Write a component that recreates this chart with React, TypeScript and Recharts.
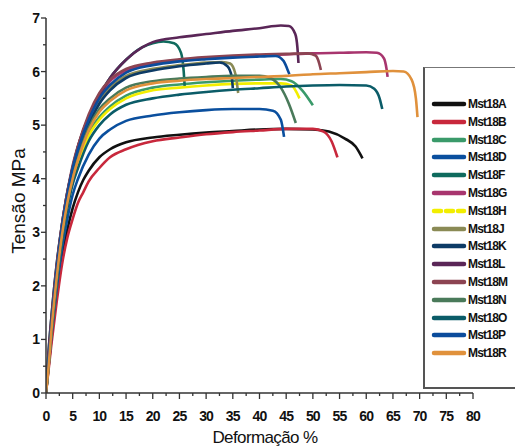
import React from 'react';
import { LineChart, Line, XAxis, YAxis, Label } from 'recharts';

// Strain (%) / stress (MPa) pairs for each specimen.
const mst18A = [[0,0],[1,1.0],[2,1.85],[3,2.55],[4,3.05],[5,3.45],[6,3.75],[7,3.98],[8,4.15],[10,4.4],[12,4.55],[15,4.68],[20,4.77],[25,4.82],[30,4.86],[35,4.89],[40,4.92],[45,4.93],[50,4.92],[53,4.88],[56,4.75],[58,4.6],[59.3,4.38]];
const mst18B = [[0,0],[1,0.9],[2,1.7],[3,2.4],[4,2.9],[5,3.25],[6,3.55],[7,3.75],[8,3.95],[10,4.2],[12,4.4],[15,4.55],[20,4.7],[25,4.77],[30,4.83],[35,4.87],[40,4.9],[45,4.93],[50,4.93],[52,4.88],[53.5,4.7],[54.6,4.4]];
const mst18C = [[0,0],[1,1.15],[2,2.15],[3,2.95],[4,3.55],[5,4.0],[6,4.35],[8,4.85],[10,5.15],[12,5.35],[15,5.55],[20,5.7],[25,5.76],[30,5.8],[35,5.83],[40,5.85],[44,5.86],[46,5.82],[48,5.65],[50,5.37]];
const mst18D = [[0,0],[1,1.05],[2,1.95],[3,2.7],[4,3.25],[5,3.7],[6,4.0],[8,4.45],[10,4.75],[12,4.92],[15,5.08],[20,5.18],[25,5.24],[30,5.28],[35,5.3],[40,5.3],[42.5,5.27],[44,5.1],[44.6,4.78]];
const mst18F = [[0,0],[0.5,0.8],[1,1.4],[2,2.4],[3,3.15],[4,3.75],[5,4.2],[6,4.6],[7,4.9],[8,5.15],[10,5.55],[12,5.88],[15,6.22],[18,6.45],[20,6.53],[22,6.56],[24,6.53],[25.3,6.35],[25.8,6.0],[26,5.7]];
const mst18G = [[0,0],[1,1.28],[2,2.32],[3,3.12],[4,3.72],[5,4.22],[6,4.6],[8,5.15],[10,5.55],[12,5.82],[15,6.02],[20,6.15],[25,6.21],[30,6.25],[35,6.28],[40,6.3],[45,6.32],[50,6.34],[55,6.35],[60,6.36],[62,6.35],[63.3,6.25],[63.8,6.05],[64,5.9]];
const mst18H = [[0,0],[1,1.12],[2,2.1],[3,2.9],[4,3.5],[5,3.95],[6,4.3],[8,4.8],[10,5.1],[12,5.3],[15,5.5],[20,5.65],[25,5.7],[30,5.74],[35,5.77],[40,5.78],[44,5.78],[46,5.74],[47.5,5.5]];
const mst18J = [[0,0],[1,1.25],[2,2.3],[3,3.1],[4,3.7],[5,4.15],[6,4.5],[8,5.05],[10,5.45],[12,5.7],[15,5.92],[20,6.05],[25,6.12],[30,6.17],[33,6.18],[34.5,6.15],[35.5,5.95],[36,5.6]];
const mst18K = [[0,0],[1,1.2],[2,2.25],[3,3.05],[4,3.65],[5,4.1],[6,4.45],[8,5.0],[10,5.4],[12,5.65],[15,5.88],[20,6.02],[25,6.1],[30,6.15],[32.5,6.17],[34,6.1],[34.8,5.9],[35,5.69]];
const mst18L = [[0,0],[0.5,0.8],[1,1.4],[2,2.4],[3,3.15],[4,3.75],[5,4.2],[6,4.6],[7,4.9],[8,5.15],[10,5.55],[12,5.88],[15,6.22],[18,6.45],[20,6.55],[25,6.64],[30,6.7],[35,6.76],[40,6.81],[44,6.86],[45.5,6.85],[46.7,6.7],[47.1,6.45],[47.3,6.16]];
const mst18M = [[0,0],[1,1.3],[2,2.35],[3,3.15],[4,3.75],[5,4.25],[6,4.62],[8,5.2],[10,5.6],[12,5.85],[15,6.05],[20,6.17],[25,6.23],[30,6.27],[35,6.3],[40,6.32],[45,6.33],[49,6.34],[50.5,6.3],[51.2,6.15],[51.5,6.03]];
const mst18N = [[0,0],[1,1.2],[2,2.2],[3,3.0],[4,3.6],[5,4.05],[6,4.4],[8,4.95],[10,5.3],[12,5.5],[15,5.7],[20,5.82],[25,5.87],[30,5.9],[35,5.92],[40,5.92],[42,5.88],[44,5.7],[45.5,5.4],[46.8,5.04]];
const mst18O = [[0,0],[1,1.1],[2,2.05],[3,2.85],[4,3.45],[5,3.9],[6,4.2],[8,4.7],[10,5.0],[12,5.2],[15,5.38],[20,5.5],[25,5.57],[30,5.62],[35,5.66],[40,5.69],[45,5.72],[50,5.74],[55,5.75],[60,5.74],[61.5,5.68],[62.5,5.5],[63,5.3]];
const mst18P = [[0,0],[1,1.25],[2,2.3],[3,3.1],[4,3.7],[5,4.2],[6,4.55],[8,5.1],[10,5.5],[12,5.75],[15,5.98],[20,6.12],[25,6.19],[30,6.23],[35,6.26],[40,6.28],[43,6.29],[44.5,6.2],[45.2,6.05],[45.6,5.95]];
const mst18R = [[0,0],[0.5,0.5],[1,1.15],[2,2.15],[3,2.95],[4,3.55],[5,4.0],[6,4.35],[8,4.9],[10,5.25],[12,5.45],[15,5.65],[20,5.78],[25,5.83],[30,5.86],[35,5.88],[40,5.9],[45,5.92],[50,5.95],[55,5.97],[60,5.99],[65,6.01],[67,6.0],[68.5,5.85],[69.3,5.5],[69.6,5.15]];

const seriesNames = ['Mst18A','Mst18B','Mst18C','Mst18D','Mst18F','Mst18G','Mst18H','Mst18J','Mst18K','Mst18L','Mst18M','Mst18N','Mst18O','Mst18P','Mst18R'];
const seriesValues = [mst18A,mst18B,mst18C,mst18D,mst18F,mst18G,mst18H,mst18J,mst18K,mst18L,mst18M,mst18N,mst18O,mst18P,mst18R];
const seriesColors = ['#111111','#c8283c','#3a9a6a','#0a4f9e','#0f6b5e','#a8356e','#f2ee00','#8a8a55','#0d3b66','#5a2657','#8c4452','#4a7a5a','#0b5c68','#0b4c9c','#e0913c'];

const xTicks = [0,2.5,5,7.5,10,12.5,15,17.5,20,22.5,25,27.5,30,32.5,35,37.5,40,42.5,45,47.5,50,52.5,55,57.5,60,62.5,65,67.5,70,72.5,75,77.5,80];
const yTicks = [0,0.5,1,1.5,2,2.5,3,3.5,4,4.5,5,5.5,6,6.5,7];

const FONT = '"Liberation Sans", Arial, sans-serif';

const toPoints = (pairs: number[][]) => pairs.map(([x, y]) => ({ x, y }));

const XTick = (props: any) => {
  const { x, y, payload } = props;
  const major = payload.value % 5 === 0;
  return (
    <g>
      <line x1={x} y1={y} x2={x} y2={y + (major ? 6 : 3)} stroke="#333" strokeWidth={1.3} />
      {major && (
        <text x={x} y={y + 28} textAnchor="middle" fontFamily={FONT} fontSize={14} fontWeight="bold" fill="#111" letterSpacing={-0.8}>
          {payload.value}
        </text>
      )}
    </g>
  );
};

const YTick = (props: any) => {
  const { x, y, payload } = props;
  const major = payload.value % 1 === 0;
  return (
    <g>
      <line x1={x} y1={y} x2={x - (major ? 5 : 3)} y2={y} stroke="#333" strokeWidth={1.3} />
      {major && (
        <text x={x - 6} y={y + 5} textAnchor="end" fontFamily={FONT} fontSize={14} fontWeight="bold" fill="#111">
          {payload.value}
        </text>
      )}
    </g>
  );
};

const LegendBox = () => (
  <div
    style={{
      position: 'absolute',
      left: 423,
      top: 67,
      width: 120,
      height: 322,
      borderLeft: '2px solid #555',
      borderTop: '1.5px solid #777',
      borderBottom: '2px solid #555',
      background: '#fff',
      boxSizing: 'border-box',
    }}
  >
    {seriesNames.map((name, i) => (
      <div key={name} style={{ position: 'absolute', left: 6, top: 29 + i * 17.8, height: 14, display: 'flex', alignItems: 'center' }}>
        <svg width={36} height={8} style={{ display: 'block' }}>
          <line
            x1={3}
            y1={4}
            x2={33}
            y2={4}
            stroke={seriesColors[i]}
            strokeWidth={4.5}
            strokeLinecap="round"
            strokeDasharray={name === 'Mst18H' ? '7 5' : undefined}
          />
        </svg>
        <span style={{ fontFamily: FONT, fontSize: 12, fontWeight: 'bold', color: '#111', letterSpacing: -0.8, marginLeft: 1 }}>{name}</span>
      </div>
    ))}
  </div>
);

export default function App() {
  return (
    <div style={{ position: 'absolute', left: 0, top: 0, width: 515, height: 446, overflow: 'hidden', background: '#fff' }}>
      <LineChart width={515} height={446} margin={{ top: 18, right: 42, bottom: 23, left: 0 }}>
        <XAxis
          type="number"
          dataKey="x"
          domain={[0, 80]}
          ticks={xTicks}
          interval={0}
          allowDataOverflow
          height={30}
          tickSize={0}
          tickMargin={0}
          tickLine={false}
          tick={XTick}
          axisLine={{ stroke: '#333', strokeWidth: 1.5 }}
        >
          <Label
            content={() => (
              <text x={265} y={443} textAnchor="middle" fontFamily={FONT} fontSize={17} fill="#111" letterSpacing={-0.6}>
                Deformação %
              </text>
            )}
          />
        </XAxis>
        <YAxis
          type="number"
          dataKey="y"
          domain={[0, 7]}
          ticks={yTicks}
          interval={0}
          allowDataOverflow
          width={46}
          tickSize={0}
          tickMargin={0}
          tickLine={false}
          tick={YTick}
          axisLine={{ stroke: '#333', strokeWidth: 1.5 }}
        >
          <Label
            content={() => (
              <text x={25} y={201} transform="rotate(-90 25 201)" textAnchor="middle" fontFamily={FONT} fontSize={19} fill="#111">
                Tensão MPa
              </text>
            )}
          />
        </YAxis>
        {seriesValues.map((vals, i) => (
          <Line
            key={seriesNames[i]}
            name={seriesNames[i]}
            data={toPoints(vals)}
            dataKey="y"
            type="monotone"
            stroke={seriesColors[i]}
            strokeWidth={2.6}
            dot={false}
            activeDot={false}
            isAnimationActive={false}
          />
        ))}
      </LineChart>
      <LegendBox />
    </div>
  );
}
